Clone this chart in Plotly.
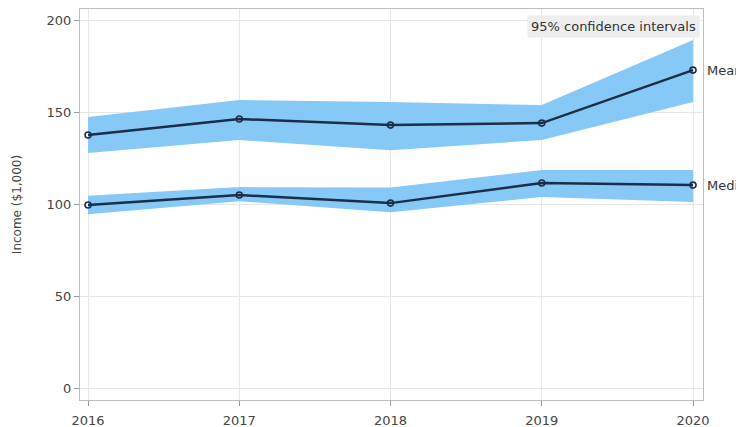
import plotly.graph_objects as go

years = [2016, 2017, 2018, 2019, 2020]

mean_income = [137.5, 146.2, 142.9, 144.0, 172.8]
mean_lower = [127.7, 134.8, 129.3, 134.8, 155.4]
mean_upper = [147.3, 156.5, 155.4, 153.8, 189.1]

median_income = [99.5, 104.9, 100.5, 111.4, 110.3]
median_lower = [94.5, 101.5, 95.5, 103.8, 101.1]
median_upper = [104.5, 109.2, 109.0, 118.5, 118.5]

series_names = ["Mean", "Median"]
y_ticks = [0, 50, 100, 150, 200]

band_color = "rgb(134,201,247)"
line_color = "rgb(28,46,70)"
font_family = "DejaVu Sans, Verdana, sans-serif"

fig = go.Figure()

for name, est, lo, hi in [
    (series_names[0], mean_income, mean_lower, mean_upper),
    (series_names[1], median_income, median_lower, median_upper),
]:
    # confidence band
    fig.add_trace(go.Scatter(
        x=years + years[::-1],
        y=hi + lo[::-1],
        fill="toself",
        fillcolor=band_color,
        line=dict(width=0),
        mode="lines",
        hoverinfo="skip",
        showlegend=False,
    ))
    # point estimate
    fig.add_trace(go.Scatter(
        x=years,
        y=est,
        mode="lines+markers",
        line=dict(color=line_color, width=2.5),
        marker=dict(symbol="circle-open", size=6, color=line_color,
                    line=dict(width=1.6, color=line_color)),
        name=name,
        showlegend=False,
        cliponaxis=False,
    ))
    fig.add_annotation(
        x=years[-1], y=est[-1], xref="x", yref="y",
        text=name, showarrow=False, xanchor="left", yanchor="middle",
        xshift=12, font=dict(size=13, color="#333333"),
    )

fig.add_annotation(
    x=1, y=1, xref="paper", yref="paper",
    xanchor="right", yanchor="top", xshift=-3, yshift=-6,
    text="95% confidence intervals", showarrow=False,
    bgcolor="#eeeeee", borderpad=3,
    font=dict(size=13, color="#333333"),
)

axis_common = dict(
    showgrid=True, gridcolor="#e6e6e6", gridwidth=1,
    showline=True, linecolor="#bdbdbd", linewidth=1, mirror=True,
    ticks="outside", ticklen=5, tickcolor="#9a9a9a",
    tickfont=dict(size=13, color="#444444"),
    zeroline=False, automargin=False,
)

fig.update_layout(
    width=736, height=427,
    margin=dict(l=80, r=33, t=9, b=27),
    plot_bgcolor="white", paper_bgcolor="white",
    font=dict(family=font_family),
    xaxis=dict(range=[2015.947, 2020.066], tickvals=years,
               ticktext=[str(y) for y in years], ticklabelstandoff=3,
               **axis_common),
    yaxis=dict(range=[-6.5, 206], tickvals=y_ticks,
               title=dict(text="Income ($1,000)", standoff=22,
                          font=dict(size=12, color="#444444")),
               **axis_common),
)

fig.write_html("out.html")
